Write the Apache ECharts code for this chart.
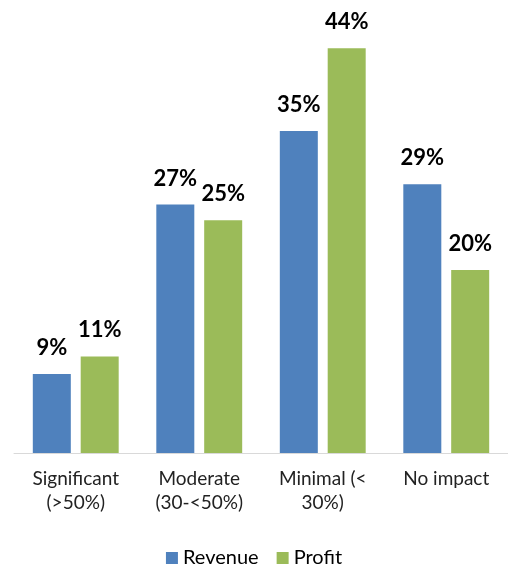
<!DOCTYPE html>
<html><head><meta charset="utf-8">
<script src="https://cdn.jsdelivr.net/npm/echarts@6/dist/echarts.min.js"></script>
<style>html,body{margin:0;padding:0;background:#fff}#c{width:508px;height:566px}</style>
</head><body><div id="c"></div>
<script>
const categories = ['Significant\n(>50%)', 'Moderate\n(30-<50%)', 'Minimal (<\n30%)', 'No impact'];
const revenue = [8.6, 27, 35, 29.2];
const profit = [10.5, 25.3, 44, 19.9];
const seriesNames = ['Revenue', 'Profit'];
const colors = ['#4f81bd', '#9bbb59'];

const font = 'Lato, "Open Sans", sans-serif';
const label = {
  show: true, position: 'top', distance: 15,
  formatter: p => Math.round(p.value) + '%',
  fontFamily: font, fontWeight: 'bold', fontSize: 22, color: '#000'
};
const chart = echarts.init(document.getElementById('c'), null, {renderer: 'canvas'});
chart.setOption({
  animation: false,
  grid: {left: 14, right: 0, top: 39, bottom: 113, containLabel: false},
  legend: {
    data: seriesNames, top: 543, left: 'center', icon: 'rect',
    itemWidth: 12, itemHeight: 12, itemGap: 18,
    textStyle: {fontFamily: font, fontSize: 20, color: '#000', padding: [0, 0, 0, 0]}
  },
  xAxis: {
    type: 'category', data: categories,
    axisLine: {lineStyle: {color: '#d9d9d9', width: 1}},
    axisTick: {show: false},
    axisLabel: {margin: 14, fontFamily: font, fontSize: 19, lineHeight: 24, color: '#222', interval: 0}
  },
  yAxis: {type: 'value', min: 0, max: 45, show: false, splitLine: {show: false}},
  series: [
    {name: seriesNames[0], type: 'bar', data: revenue, barWidth: 38, barGap: '26%', itemStyle: {color: colors[0]}, label},
    {name: seriesNames[1], type: 'bar', data: profit, barWidth: 38, barGap: '26%', itemStyle: {color: colors[1]}, label}
  ]
});
</script></body></html>
